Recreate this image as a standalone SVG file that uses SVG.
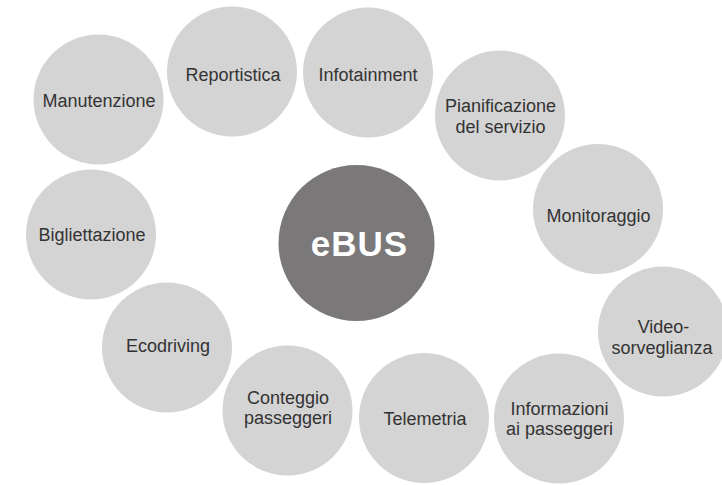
<svg xmlns="http://www.w3.org/2000/svg" width="722" height="485" viewBox="0 0 722 485">
<style>
.c{fill:#d4d4d4}
.t{font-family:"Liberation Sans",Arial,sans-serif;font-size:18px;fill:#333;text-anchor:middle}
.h{font-family:"Liberation Sans",Arial,sans-serif;font-size:35px;font-weight:bold;fill:#fff;text-anchor:middle;letter-spacing:1px}
</style>
<rect width="722" height="485" fill="#fff"/>
<g id="connectors"></g>
<g id="manutenzione"><circle class="c" cx="98.5" cy="99.5" r="65"/><text class="t" x="99" y="107">Manutenzione</text></g>
<g id="reportistica"><circle class="c" cx="232" cy="71.5" r="65"/><text class="t" x="233" y="81">Reportistica</text></g>
<g id="infotainment"><circle class="c" cx="368" cy="72.5" r="65"/><text class="t" x="368" y="81">Infotainment</text></g>
<g id="pianificazione"><circle class="c" cx="500" cy="115.5" r="65"/><text class="t" x="500.5" y="112">Pianificazione</text><text class="t" x="500.5" y="133">del servizio</text></g>
<g id="monitoraggio"><circle class="c" cx="598" cy="209" r="65"/><text class="t" x="598.5" y="221.5">Monitoraggio</text></g>
<g id="videosorveglianza"><circle class="c" cx="663" cy="331.5" r="65"/><text class="t" x="663.5" y="333">Video-</text><text class="t" x="662" y="354">sorveglianza</text></g>
<g id="informazioni"><circle class="c" cx="559" cy="418.5" r="65"/><text class="t" x="559.5" y="414.5">Informazioni</text><text class="t" x="559.5" y="435">ai passeggeri</text></g>
<g id="telemetria"><circle class="c" cx="424" cy="418" r="65"/><text class="t" x="425" y="424.5">Telemetria</text></g>
<g id="conteggio"><circle class="c" cx="287.5" cy="410.5" r="65"/><text class="t" x="288" y="403.5">Conteggio</text><text class="t" x="288" y="424">passeggeri</text></g>
<g id="ecodriving"><circle class="c" cx="167" cy="347.5" r="65"/><text class="t" x="168" y="352">Ecodriving</text></g>
<g id="bigliettazione"><circle class="c" cx="91" cy="234.5" r="65"/><text class="t" x="92" y="240.5">Bigliettazione</text></g>
<g id="ebus"><circle cx="356.5" cy="243" r="78" fill="#7a7878"/><text class="h" x="359.5" y="255.5">eBUS</text></g>
</svg>
